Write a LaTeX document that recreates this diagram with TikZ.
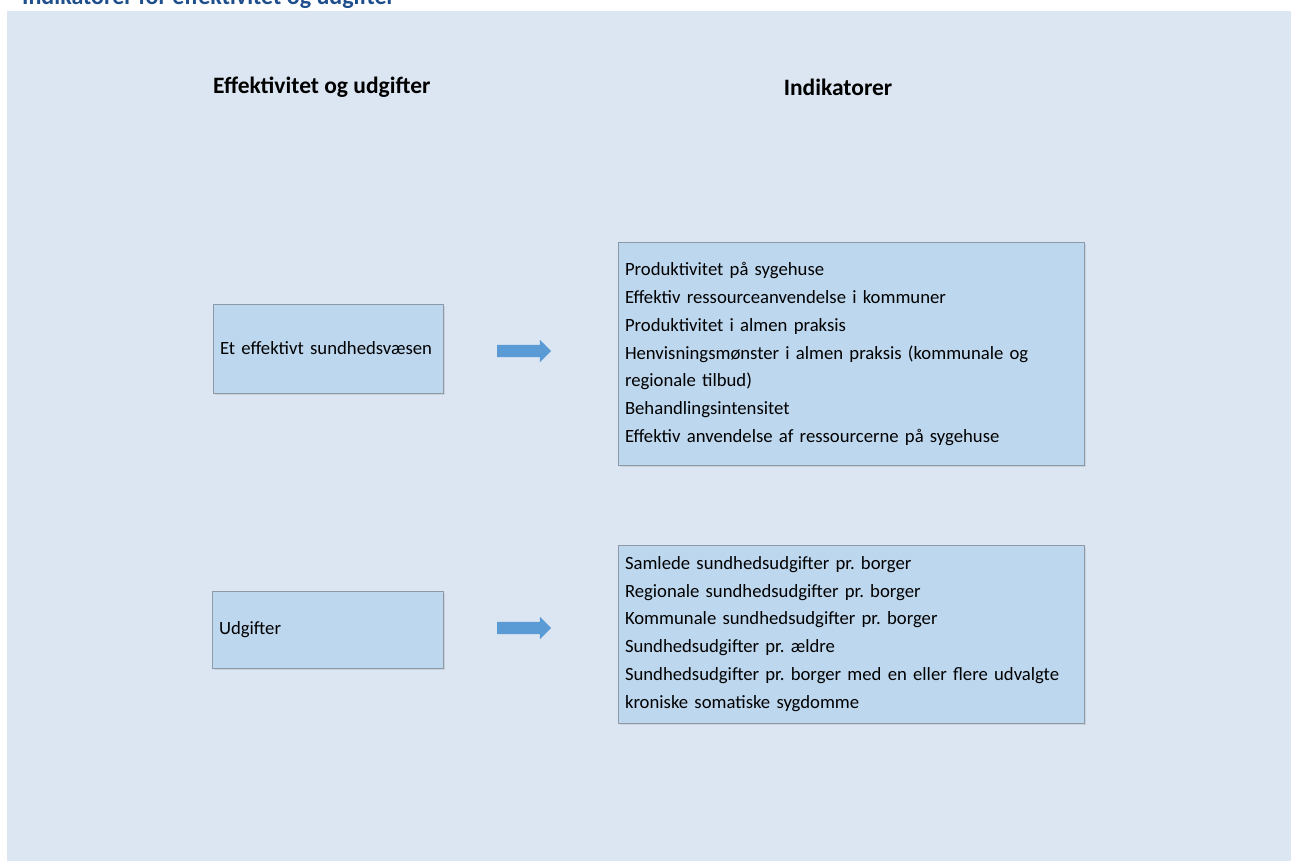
\documentclass[tikz,border=0pt]{standalone}
\usepackage{fontspec}
\setmainfont{Carlito}
\usetikzlibrary{shapes.arrows,shadows}
\definecolor{panelbg}{HTML}{DCE6F2}
\definecolor{boxfill}{HTML}{BDD7EE}
\definecolor{boxline}{HTML}{8D99A6}
\definecolor{arrowblue}{HTML}{5B9BD5}
\definecolor{titleblue}{HTML}{1F4E8C}
\tikzset{
  area/.style={draw=boxline,fill=boxfill,line width=1pt,inner xsep=7pt,inner ysep=0pt,
    drop shadow={opacity=0.2,shadow xshift=1.5pt,shadow yshift=-1.5pt},
    font=\fontsize{18.7}{27.8}\selectfont,align=left},
  heading/.style={font=\fontsize{23.5}{26}\selectfont\bfseries,inner sep=0pt},
  blockarrow/.style={single arrow,fill=arrowblue,draw=none,minimum width=22pt,
    single arrow head extend=5pt,single arrow head indent=0pt,minimum height=54pt,
    inner xsep=0pt,inner ysep=6pt}
}
\begin{document}
\frenchspacing
\begin{tikzpicture}[x=1pt,y=-1pt]
\useasboundingbox (0,0) rectangle (1291,861);
\fill[panelbg] (7,11) rectangle (1291,861);
\node[anchor=base west,inner sep=0pt,font=\fontsize{24}{26}\selectfont\bfseries,text=titleblue] (title) at (22,5) {Indikatorer for effektivitet og udgifter};
% headings
\node[heading,anchor=west] (hleft) at (213,87) {Effektivitet og udgifter};
\node[heading] (hright) at (838,87) {Indikatorer};
% left boxes
\node[area,minimum width=230pt,minimum height=89pt,text width=216pt] (eff) at (328,348.5) {Et effektivt sundhedsvæsen};
\node[area,minimum width=231pt,minimum height=77pt,text width=217pt] (udg) at (327.5,629.5) {Udgifter};
% arrows
\node[blockarrow] (arr1) at (521,351) {};
\node[blockarrow] (arr2) at (521,628) {};
% indicator boxes
\node[area,minimum width=466pt,minimum height=222pt,text width=452pt] (ind1) at (851,354) {%
Produktivitet på sygehuse\\
Effektiv ressourceanvendelse i kommuner\\
Produktivitet i almen praksis\\
Henvisningsmønster i almen praksis (kommunale og\\
regionale tilbud)\\
Behandlingsintensitet\\
Effektiv anvendelse af ressourcerne på sygehuse};
\node[area,minimum width=466pt,minimum height=178pt,text width=452pt] (ind2) at (851,634) {%
Samlede sundhedsudgifter pr. borger\\
Regionale sundhedsudgifter pr. borger\\
Kommunale sundhedsudgifter pr. borger\\
Sundhedsudgifter pr. ældre\\
Sundhedsudgifter pr. borger med en eller flere udvalgte\\
kroniske somatiske sygdomme};
\end{tikzpicture}
\end{document}
